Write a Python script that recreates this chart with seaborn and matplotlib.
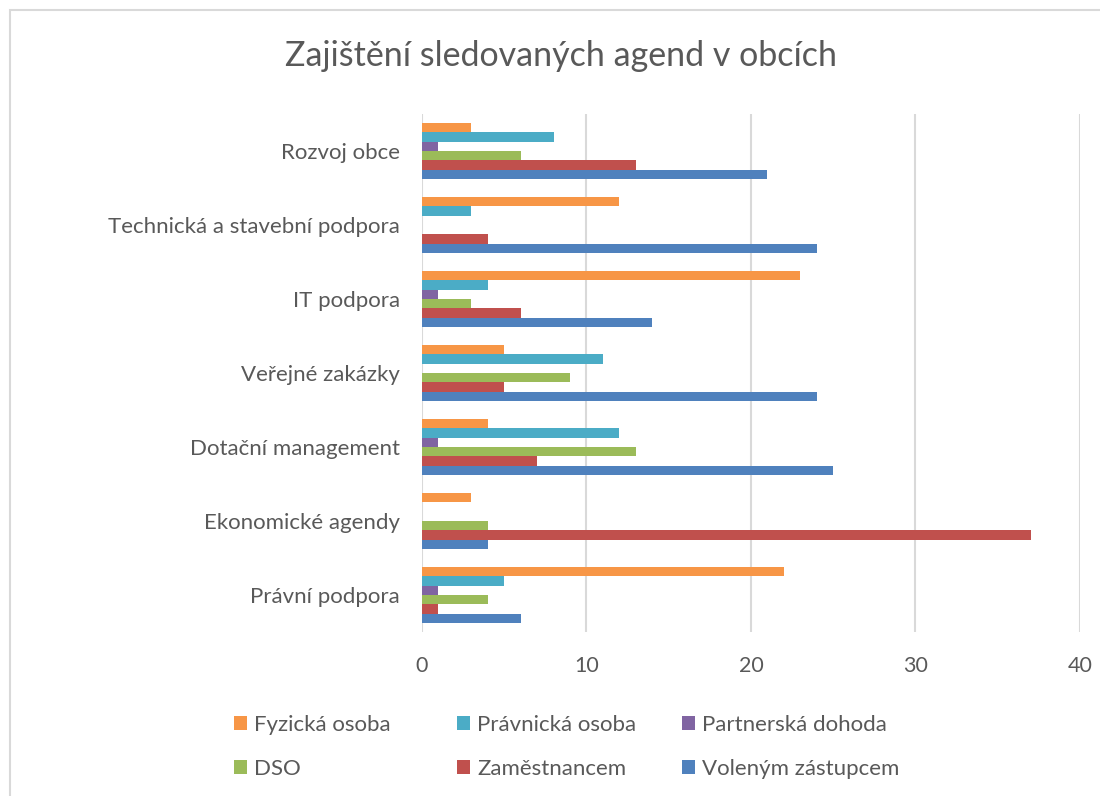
import pandas as pd
import matplotlib.pyplot as plt
import seaborn as sns
from matplotlib.patches import Patch, Rectangle

# Data
agendy = ["Rozvoj obce", "Technická a stavební podpora", "IT podpora",
          "Veřejné zakázky", "Dotační management", "Ekonomické agendy",
          "Právní podpora"]
zpusoby = ["Fyzická osoba", "Právnická osoba", "Partnerská dohoda",
           "DSO", "Zaměstnancem", "Voleným zástupcem"]
fyzicka = [3, 12, 23, 5, 4, 3, 22]
pravnicka = [8, 3, 4, 11, 12, 0, 5]
partnerska = [1, 0, 1, 0, 1, 0, 1]
dso = [6, 0, 3, 9, 13, 4, 4]
zamestnancem = [13, 4, 6, 5, 7, 37, 1]
volenym = [21, 24, 14, 24, 25, 4, 6]
barvy = ["#F79646", "#4BACC6", "#8064A2", "#9BBB59", "#C0504D", "#4F81BD"]

series = [fyzicka, pravnicka, partnerska, dso, zamestnancem, volenym]
rows = []
for z, vals in zip(zpusoby, series):
    for a, v in zip(agendy, vals):
        rows.append({"agenda": a, "zpusob": z, "pocet": v})
df = pd.DataFrame(rows)

sns.set_style("white")
plt.rcParams["font.family"] = ["Lato", "DejaVu Sans"]
text_col = "#595959"

fig = plt.figure(figsize=(11, 7.96), dpi=100)
ax = fig.add_axes([422 / 1100, 1 - 632 / 796, 658 / 1100, 518 / 796])

sns.barplot(data=df, y="agenda", x="pocet", hue="zpusob", order=agendy,
            hue_order=zpusoby, palette=barvy, orient="h", width=0.76,
            linewidth=0, saturation=1, legend=False, ax=ax)

ax.set_xlim(0, 40)
ax.set_ylim(6.5, -0.5)
ax.set_xticks([0, 10, 20, 30, 40])
ax.grid(axis="x", color="#d9d9d9", linewidth=1.5)
ax.set_axisbelow(True)
for s in ax.spines.values():
    s.set_visible(False)
ax.set_xlabel("")
ax.set_ylabel("")
ax.tick_params(axis="x", length=0, pad=17, labelsize=15.5, labelcolor=text_col)
ax.tick_params(axis="y", length=0, pad=16, labelsize=16, labelcolor=text_col)

fig.text(561 / 1100, 1 - 56 / 796, "Zajištění sledovaných agend v obcích",
         ha="center", va="center", fontsize=24.5, color=text_col)

# legend: three columns at fixed positions, like Excel
col_x = [234, 457, 682]
for i, x in enumerate(col_x):
    idx = [i, i + 3]
    handles = [Patch(facecolor=barvy[j], edgecolor="none") for j in idx]
    fig.legend(handles, [zpusoby[j] for j in idx], loc="center left",
               bbox_to_anchor=(x / 1100, 1 - 747 / 796), frameon=False,
               fontsize=16, labelcolor=text_col, handlelength=0.6,
               handleheight=0.6, handletextpad=0.3,
               labelspacing=1.1, borderaxespad=0, borderpad=0)

# chart border
fig.patches.append(Rectangle((10 / 1100, -0.05), 1.0, 1 - 10 / 796 + 0.05,
                             transform=fig.transFigure, fill=False,
                             edgecolor="#d9d9d9", linewidth=1.5))

fig.savefig("out.png", dpi=100)
